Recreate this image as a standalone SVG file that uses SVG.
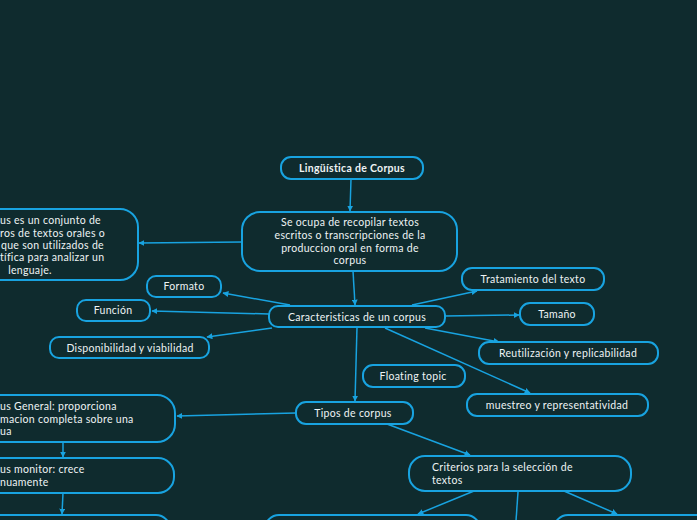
<svg xmlns="http://www.w3.org/2000/svg" width="697" height="520" viewBox="0 0 697 520">
<defs>
<style>
.n{fill:#0f2b2e;stroke:#18a3e0;stroke-width:2}
.t{font-family:Lato,"Noto Sans",sans-serif;font-size:10.5px;letter-spacing:0.3px;fill:#eef3f4;text-anchor:middle}
.l{text-anchor:start}
.b{font-weight:bold}
.c{stroke:#18a3e0;stroke-width:1.5;fill:none}
</style>
<marker id="a" viewBox="0 0 10 10" refX="9" refY="5" markerWidth="6" markerHeight="6" orient="auto" markerUnits="userSpaceOnUse">
<path d="M0,0L10,5L0,10z" fill="#18a3e0"/>
</marker>
</defs>
<rect width="697" height="520" fill="#0f2b2e"/>
<g id="connectors">
<line class="c" x1="351" y1="179" x2="350" y2="211" marker-end="url(#a)"/>
<line class="c" x1="242" y1="242" x2="139" y2="243" marker-end="url(#a)"/>
<line class="c" x1="353" y1="271" x2="355" y2="305" marker-end="url(#a)"/>
<line class="c" x1="290" y1="305" x2="223" y2="293" marker-end="url(#a)"/>
<line class="c" x1="269" y1="314" x2="152" y2="311" marker-end="url(#a)"/>
<line class="c" x1="272" y1="328" x2="207" y2="337" marker-end="url(#a)"/>
<line class="c" x1="412" y1="305" x2="477" y2="291" marker-end="url(#a)"/>
<line class="c" x1="445" y1="316" x2="519" y2="315" marker-end="url(#a)"/>
<line class="c" x1="425" y1="328" x2="499" y2="342" marker-end="url(#a)"/>
<line class="c" x1="385" y1="328" x2="530" y2="393" marker-end="url(#a)"/>
<line class="c" x1="357" y1="327" x2="355" y2="401" marker-end="url(#a)"/>
<line class="c" x1="296" y1="413" x2="177" y2="416" marker-end="url(#a)"/>
<line class="c" x1="387" y1="424" x2="470" y2="455" marker-end="url(#a)"/>
<line class="c" x1="63" y1="442" x2="63" y2="457" marker-end="url(#a)"/>
<line class="c" x1="63" y1="493" x2="62" y2="514" marker-end="url(#a)"/>
<line class="c" x1="474" y1="491" x2="418" y2="514" marker-end="url(#a)"/>
<line class="c" x1="518" y1="492" x2="516" y2="521"/>
<line class="c" x1="564" y1="491" x2="617" y2="514" marker-end="url(#a)"/>
</g>
<g id="n-linguistica">
<rect class="n" x="281" y="157" width="142" height="22" rx="10"/>
<text class="t b" x="352" y="171.5">Lingüística de Corpus</text>
</g>
<g id="n-seocupa">
<rect class="n" x="242" y="212" width="215" height="59" rx="18"/>
<text class="t" x="350" y="226">Se ocupa de recopilar textos</text>
<text class="t" x="350" y="239">escritos o transcripciones de la</text>
<text class="t" x="350" y="252">produccion oral en forma de</text>
<text class="t" x="350" y="264">corpus</text>
</g>
<g id="n-definicion">
<rect class="n" x="-80" y="209" width="218" height="71" rx="18"/>
<text class="t l" x="0" y="224">us es un conjunto de</text>
<text class="t l" x="0" y="237">ros de textos orales o</text>
<text class="t l" x="1" y="249">que son utilizados de</text>
<text class="t l" x="0" y="261">tífica para analizar un</text>
<text class="t" x="30" y="274">lenguaje.</text>
</g>
<g id="n-formato">
<rect class="n" x="147" y="276" width="74" height="21" rx="9"/>
<text class="t" x="184" y="290">Formato</text>
</g>
<g id="n-funcion">
<rect class="n" x="77" y="300" width="73" height="21" rx="9"/>
<text class="t" x="113" y="314">Función</text>
</g>
<g id="n-disponibilidad">
<rect class="n" x="50" y="337" width="159" height="21" rx="9"/>
<text class="t" x="130" y="352">Disponibilidad y viabilidad</text>
</g>
<g id="n-caracteristicas">
<rect class="n" x="269" y="306" width="176" height="21" rx="9"/>
<text class="t" x="357" y="320.5">Caracteristicas de un corpus</text>
</g>
<g id="n-tratamiento">
<rect class="n" x="462" y="268" width="142" height="22" rx="10"/>
<text class="t" x="533" y="282.5">Tratamiento del texto</text>
</g>
<g id="n-tamano">
<rect class="n" x="520" y="303" width="74" height="22" rx="10"/>
<text class="t" x="557" y="317.5">Tamaño</text>
</g>
<g id="n-reutilizacion">
<rect class="n" x="479" y="342" width="179" height="22" rx="10"/>
<text class="t" x="568" y="356.5">Reutilización y replicabilidad</text>
</g>
<g id="n-muestreo">
<rect class="n" x="467" y="394" width="181" height="22" rx="10"/>
<text class="t" x="557" y="408.5">muestreo y representatividad</text>
</g>
<g id="n-floating">
<rect class="n" x="363" y="365" width="102" height="22" rx="10"/>
<text class="t" x="413" y="379.5">Floating topic</text>
</g>
<g id="n-tipos">
<rect class="n" x="296" y="402" width="117" height="22" rx="10"/>
<text class="t" x="353" y="416.5">Tipos de corpus</text>
</g>
<g id="n-general">
<rect class="n" x="-80" y="395" width="255" height="47" rx="18"/>
<text class="t l" x="0" y="410">us General: proporciona</text>
<text class="t l" x="0" y="423">macion completa sobre una</text>
<text class="t l" x="0" y="435">ua</text>
</g>
<g id="n-monitor">
<rect class="n" x="-80" y="458" width="254" height="35" rx="16"/>
<text class="t l" x="0" y="473">us monitor: crece</text>
<text class="t l" x="0" y="486">nuamente</text>
</g>
<g id="n-bottom1">
<rect class="n" x="-80" y="515" width="250" height="30" rx="14"/>
</g>
<g id="n-criterios">
<rect class="n" x="409" y="456" width="222" height="35" rx="16"/>
<text class="t l" x="432" y="471">Criterios para la selección de</text>
<text class="t l" x="432" y="484">textos</text>
</g>
<g id="n-bottom2">
<rect class="n" x="265" y="515" width="215" height="30" rx="14"/>
</g>
<g id="n-bottom3">
<rect class="n" x="554" y="515" width="200" height="30" rx="14"/>
</g>
</svg>
